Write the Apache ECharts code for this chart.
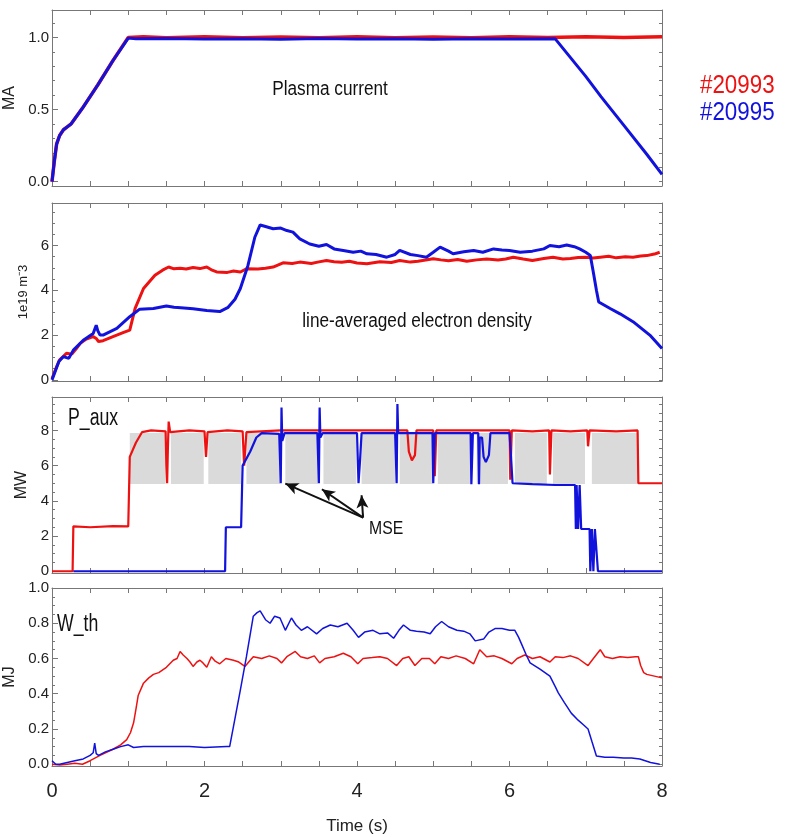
<!DOCTYPE html>
<html><head><meta charset="utf-8">
<script src="https://cdn.jsdelivr.net/npm/echarts@6/dist/echarts.min.js"></script>
<style>html,body{margin:0;padding:0;background:#fff}#c{width:791px;height:837px}</style>
</head><body><div id="c"></div>
<script>
// ---------- data ----------
const xTickLabels = [0, 2, 4, 6, 8];
const ipTicks = [0, 0.5, 1.0];
const neTicks = [0, 2, 4, 6];
const pTicks = [0, 2, 4, 6, 8];
const wTicks = [0, 0.2, 0.4, 0.6, 0.8, 1.0];

const ipRed = [[0,0.0],[0.03,0.14],[0.06,0.26],[0.1,0.32],[0.15,0.36],[0.2,0.38],[0.25,0.40],[0.4,0.51],[0.6,0.67],[0.8,0.84],[1.0,1.0],[1.2,1.005],[1.5,0.998],[2.0,1.004],[2.5,0.998],[3.0,1.003],[3.5,0.997],[4.0,1.004],[4.5,0.998],[5.0,1.003],[5.5,0.997],[6.0,1.004],[6.5,0.999],[7.0,1.005],[7.5,0.999],[8.0,1.004]];
const ipBlue = [[0,0.0],[0.03,0.14],[0.06,0.26],[0.1,0.32],[0.15,0.36],[0.2,0.38],[0.25,0.40],[0.4,0.51],[0.6,0.67],[0.8,0.84],[1.0,0.995],[1.1,0.99],[1.5,0.992],[2.0,0.989],[2.5,0.991],[3.0,0.988],[3.5,0.992],[4.0,0.989],[4.5,0.991],[5.0,0.988],[5.5,0.991],[6.0,0.989],[6.6,0.99],[6.8,0.86],[7.0,0.73],[7.2,0.59],[7.5,0.39],[7.8,0.19],[8.0,0.05]];

const neRed = [[0,0.05],[0.05,0.5],[0.1,0.89],[0.15,1.05],[0.19,1.19],[0.26,1.15],[0.32,1.4],[0.37,1.63],[0.45,1.82],[0.54,1.93],[0.58,1.85],[0.61,1.71],[0.67,1.75],[0.8,1.93],[0.94,2.12],[1.02,2.22],[1.09,3.19],[1.2,4.08],[1.35,4.67],[1.45,4.9],[1.53,5.04],[1.6,4.96],[1.68,4.99],[1.76,4.95],[1.85,5.02],[1.94,4.97],[2.03,5.04],[2.1,4.9],[2.16,4.82],[2.3,4.8],[2.38,4.86],[2.47,4.82],[2.55,4.96],[2.7,4.95],[2.8,4.99],[2.9,5.04],[3.03,5.23],[3.15,5.2],[3.25,5.26],[3.4,5.2],[3.5,5.27],[3.6,5.33],[3.7,5.28],[3.8,5.25],[3.9,5.3],[4.0,5.22],[4.13,5.19],[4.3,5.28],[4.45,5.24],[4.56,5.33],[4.7,5.26],[4.8,5.3],[4.9,5.35],[5.0,5.41],[5.1,5.36],[5.2,5.32],[5.32,5.38],[5.44,5.3],[5.57,5.36],[5.7,5.4],[5.85,5.35],[5.95,5.4],[6.05,5.48],[6.18,5.4],[6.3,5.33],[6.45,5.42],[6.57,5.48],[6.7,5.4],[6.8,5.42],[6.9,5.47],[7.0,5.48],[7.1,5.44],[7.19,5.48],[7.3,5.52],[7.4,5.45],[7.52,5.5],[7.62,5.48],[7.72,5.53],[7.8,5.55],[7.9,5.62],[7.97,5.7]];
const neBlue = [[0,0.0],[0.05,0.45],[0.09,0.82],[0.15,1.04],[0.22,0.96],[0.28,1.33],[0.41,1.77],[0.54,2.07],[0.58,2.44],[0.6,2.2],[0.63,2.0],[0.67,2.0],[0.85,2.3],[1.02,2.82],[1.15,3.16],[1.33,3.19],[1.5,3.3],[1.6,3.24],[1.69,3.22],[1.85,3.18],[2.03,3.1],[2.2,3.05],[2.31,3.24],[2.4,3.6],[2.47,4.08],[2.57,5.11],[2.66,6.37],[2.73,6.92],[2.8,6.85],[2.9,6.75],[3.0,6.78],[3.08,6.67],[3.16,6.6],[3.25,6.3],[3.38,6.07],[3.5,5.97],[3.6,6.05],[3.7,5.85],[3.82,5.78],[3.95,5.7],[4.05,5.75],[4.13,5.63],[4.25,5.6],[4.39,5.48],[4.5,5.6],[4.56,5.78],[4.7,5.6],[4.8,5.55],[4.91,5.48],[5.0,5.7],[5.09,5.93],[5.2,5.75],[5.26,5.63],[5.4,5.72],[5.53,5.78],[5.65,5.7],[5.79,5.85],[5.9,5.8],[6.0,5.78],[6.14,5.7],[6.3,5.75],[6.45,5.85],[6.53,6.0],[6.65,5.95],[6.75,6.02],[6.85,5.95],[6.92,5.85],[7.0,5.7],[7.06,5.56],[7.1,4.8],[7.14,4.0],[7.17,3.48],[7.32,3.19],[7.45,2.95],[7.62,2.6],[7.84,2.0],[8.0,1.4]];

const pRed = [[0,0],[0.27,0],[0.28,2.55],[0.5,2.5],[0.8,2.56],[1.0,2.55],[1.02,6.5],[1.1,7.3],[1.18,7.9],[1.3,8.0],[1.49,7.95],[1.5,6.0],[1.51,5.0],[1.52,7.0],[1.53,8.5],[1.55,7.9],[1.8,8.0],[2.0,7.95],[2.02,6.5],[2.04,7.9],[2.3,8.0],[2.5,7.95],[2.52,6.0],[2.55,7.9],[3.0,8.0],[3.5,8.0],[4.0,8.0],[4.5,8.0],[4.66,8.0],[4.68,6.8],[4.72,6.3],[4.76,6.6],[4.78,8.0],[5.0,8.0],[5.02,5.4],[5.04,8.0],[5.5,8.0],[6.0,8.0],[6.01,5.2],[6.03,8.0],[6.3,7.95],[6.52,8.0],[6.53,5.5],[6.55,8.0],[6.8,7.95],[7.02,8.0],[7.03,7.1],[7.05,8.0],[7.4,7.95],[7.68,8.0],[7.69,5.0],[8.0,5.0]];
const pBlue = [[0.28,0],[2.27,0],[2.28,2.5],[2.48,2.5],[2.5,6.0],[2.6,6.8],[2.68,7.6],[2.75,7.85],[2.98,7.8],[3.0,5.0],[3.01,9.3],[3.02,7.4],[3.05,7.85],[3.48,7.85],[3.5,5.0],[3.51,9.3],[3.52,7.6],[3.55,7.85],[4.0,7.85],[4.02,5.0],[4.04,6.3],[4.06,7.85],[4.5,7.85],[4.52,5.0],[4.53,9.5],[4.54,7.85],[4.99,7.85],[5.0,5.0],[5.02,7.85],[5.49,7.85],[5.5,4.95],[5.52,7.85],[5.59,7.85],[5.6,4.95],[5.61,7.6],[5.64,7.6],[5.66,6.5],[5.69,6.2],[5.73,6.6],[5.75,7.85],[6.0,7.85],[6.02,6.5],[6.04,5.0],[6.3,4.95],[6.6,4.9],[6.86,4.9],[6.87,2.4],[6.88,4.9],[6.9,2.4],[6.92,4.9],[6.94,2.4],[7.05,2.4],[7.06,0],[7.08,2.4],[7.1,0],[7.12,2.4],[7.16,0],[8.0,0]];
const grayStart = [1.02,1.56,2.05,2.55,3.06,3.56,4.06,4.56,5.06,5.57,6.07,6.57,7.08];
const grayEnd   = [1.49,1.99,2.48,2.99,3.49,3.99,4.50,4.99,5.49,5.98,6.49,6.99,7.69];
const grayLow = 4.95, grayHigh = 7.85;
const mseTail = [4.08, 3.05];
const mseTips = [[3.06,4.98],[3.54,4.66],[4.06,4.32]];

const wRed = [[0,0.0],[0.1,-0.005],[0.2,0.0],[0.3,0.005],[0.4,0.0],[0.5,0.02],[0.63,0.05],[0.8,0.085],[0.9,0.11],[0.98,0.14],[1.03,0.18],[1.07,0.235],[1.1,0.31],[1.13,0.39],[1.2,0.46],[1.27,0.49],[1.33,0.51],[1.4,0.52],[1.5,0.55],[1.59,0.59],[1.64,0.6],[1.68,0.64],[1.72,0.62],[1.77,0.6],[1.81,0.58],[1.85,0.555],[1.9,0.58],[1.94,0.59],[1.98,0.575],[2.03,0.55],[2.09,0.61],[2.14,0.585],[2.2,0.57],[2.28,0.6],[2.38,0.59],[2.45,0.58],[2.53,0.555],[2.58,0.58],[2.64,0.61],[2.75,0.6],[2.85,0.615],[2.95,0.6],[3.01,0.575],[3.08,0.61],[3.19,0.64],[3.26,0.61],[3.35,0.6],[3.44,0.615],[3.51,0.575],[3.58,0.6],[3.7,0.61],[3.82,0.63],[3.92,0.61],[4.01,0.57],[4.08,0.6],[4.2,0.605],[4.3,0.61],[4.4,0.6],[4.52,0.56],[4.6,0.6],[4.68,0.61],[4.76,0.56],[4.85,0.6],[4.95,0.6],[5.02,0.57],[5.1,0.61],[5.2,0.6],[5.3,0.615],[5.42,0.6],[5.53,0.57],[5.61,0.65],[5.7,0.61],[5.8,0.615],[5.9,0.6],[6.03,0.57],[6.1,0.6],[6.2,0.62],[6.3,0.6],[6.4,0.61],[6.53,0.58],[6.6,0.61],[6.7,0.605],[6.8,0.615],[6.9,0.6],[7.03,0.56],[7.1,0.6],[7.19,0.65],[7.25,0.61],[7.35,0.6],[7.45,0.61],[7.55,0.605],[7.65,0.61],[7.69,0.61],[7.72,0.56],[7.76,0.52],[7.8,0.51],[7.9,0.5],[8.0,0.49]];
const wBlue = [[0,0.02],[0.05,0.0],[0.1,0.0],[0.2,0.01],[0.3,0.02],[0.41,0.03],[0.5,0.05],[0.54,0.065],[0.56,0.12],[0.58,0.06],[0.61,0.05],[0.7,0.07],[0.8,0.085],[0.9,0.1],[1.0,0.11],[1.07,0.095],[1.2,0.1],[1.5,0.1],[1.8,0.1],[2.0,0.095],[2.29,0.1],[2.33,0.1],[2.4,0.26],[2.47,0.42],[2.55,0.61],[2.64,0.84],[2.69,0.86],[2.73,0.87],[2.8,0.82],[2.86,0.8],[2.92,0.84],[2.99,0.83],[3.06,0.76],[3.14,0.83],[3.2,0.79],[3.27,0.76],[3.35,0.78],[3.47,0.74],[3.55,0.77],[3.65,0.79],[3.75,0.78],[3.87,0.8],[3.95,0.76],[4.02,0.72],[4.1,0.75],[4.21,0.76],[4.3,0.74],[4.4,0.745],[4.48,0.715],[4.55,0.76],[4.61,0.79],[4.7,0.76],[4.78,0.755],[4.88,0.75],[4.96,0.74],[5.03,0.78],[5.11,0.81],[5.2,0.78],[5.31,0.76],[5.4,0.755],[5.48,0.74],[5.55,0.7],[5.66,0.71],[5.73,0.75],[5.81,0.77],[5.9,0.77],[6.0,0.76],[6.07,0.76],[6.12,0.72],[6.16,0.68],[6.22,0.62],[6.27,0.575],[6.4,0.54],[6.53,0.5],[6.6,0.44],[6.64,0.405],[6.72,0.35],[6.81,0.29],[6.9,0.25],[6.98,0.22],[7.03,0.2],[7.08,0.13],[7.14,0.047],[7.25,0.04],[7.36,0.04],[7.5,0.035],[7.6,0.035],[7.71,0.03],[7.85,0.01],[7.97,0.0]];

// ---------- styling ----------
const RED = '#ee1111', BLUE = '#1212dd';
const FONT = "'Liberation Sans',Arial,sans-serif";
const AX = '#777';
const panels = [
  {top:10, height:176, min:-0.03, max:1.19, ticks:ipTicks, minor:0.1, dec:1, name:'MA', nameGap:26, nameSize:16},
  {top:203, height:178, min:-0.05, max:7.9, ticks:neTicks, minor:0.5, dec:0, name:'1e19 m\u207B3', nameGap:21, nameSize:13},
  {top:397, height:176, min:-0.1, max:9.9, ticks:pTicks, minor:0.5, dec:0, name:'MW', nameGap:22, nameSize:16},
  {top:588, height:178, min:-0.01, max:1.0, ticks:wTicks, minor:0.05, dec:1, name:'MJ', nameGap:28, nameSize:16}
];
function minorsOf(p){
  const out=[]; const n=Math.round((p.max-p.min)/p.minor)+2;
  const start=Math.ceil(p.min/p.minor);
  for(let k=start;k<start+n;k++){const v=+(k*p.minor).toFixed(4); if(v>=p.min&&v<=p.max) out.push(v);}
  return out;
}
const grid=[], xAxis=[], yAxis=[];
panels.forEach((p,i)=>{ grid.push({left:52, width:610, top:p.top, height:p.height, containLabel:false, outerBoundsMode:'none'}); });
panels.forEach((p,i)=>{
  xAxis.push({gridIndex:i, type:'value', min:0, max:8, interval:0.5, position:'bottom',
    axisLine:{show:true,onZero:false,lineStyle:{color:AX,width:1}},
    axisTick:{show:true,inside:true,length:5,lineStyle:{color:AX}},
    axisLabel:{show:i===3, customValues:xTickLabels, fontSize:20, fontFamily:FONT, color:'#222', margin:15},
    splitLine:{show:false},
    name:i===3?'Time (s)':'', nameLocation:'middle', nameGap:52,
    nameTextStyle:{fontSize:17, fontFamily:FONT, color:'#222'}});
});
panels.forEach((p,i)=>{
  xAxis.push({gridIndex:i, type:'value', min:0, max:8, interval:0.5, position:'top',
    axisLine:{show:true,onZero:false,lineStyle:{color:AX,width:1}},
    axisTick:{show:true,inside:true,length:5,lineStyle:{color:AX}},
    axisLabel:{show:false}, splitLine:{show:false}});
});
panels.forEach((p,i)=>{
  yAxis.push({gridIndex:i, type:'value', min:p.min, max:p.max, position:'left',
    axisLine:{show:true,onZero:false,lineStyle:{color:AX,width:1}},
    axisTick:{show:true,inside:true,length:6,customValues:p.ticks,lineStyle:{color:AX}},
    axisLabel:{show:true,customValues:p.ticks,formatter:v=>Number(v).toFixed(p.dec),fontSize:15,fontFamily:FONT,color:'#222',margin:3},
    splitLine:{show:false},
    name:p.name, nameLocation:'middle', nameGap:p.nameGap,
    nameTextStyle:{fontSize:p.nameSize, fontFamily:FONT, color:'#222'}});
});
panels.forEach((p,i)=>{
  yAxis.push({gridIndex:i, type:'value', min:p.min, max:p.max, position:'left',
    axisLine:{show:false,onZero:false},
    axisTick:{show:true,inside:true,length:3,customValues:minorsOf(p),lineStyle:{color:AX}},
    axisLabel:{show:false}, splitLine:{show:false}});
});
panels.forEach((p,i)=>{
  yAxis.push({gridIndex:i, type:'value', min:p.min, max:p.max, position:'right',
    axisLine:{show:true,onZero:false,lineStyle:{color:AX,width:1}},
    axisTick:{show:true,inside:true,length:3,customValues:minorsOf(p),lineStyle:{color:AX}},
    axisLabel:{show:false}, splitLine:{show:false}});
});

function line(i,data,color,width,z){
  return {type:'line', xAxisIndex:i, yAxisIndex:i, data, showSymbol:false, symbol:'none',
    lineStyle:{color,width}, itemStyle:{color}, z, clip:true, silent:true};
}
const grayAreas = grayStart.map((s,k)=>[{xAxis:s, yAxis:grayLow},{xAxis:grayEnd[k], yAxis:grayHigh}]);
const series = [
  {type:'line', xAxisIndex:2, yAxisIndex:2, data:[[0,-5],[0.01,-5]], showSymbol:false, symbol:'none',
   lineStyle:{opacity:0}, z:1, silent:true,
   markArea:{silent:true, itemStyle:{color:'#dadada'}, data:grayAreas}},
  line(0,ipRed,RED,3.5,2), line(0,ipBlue,BLUE,3,3),
  line(1,neRed,RED,3,2), line(1,neBlue,BLUE,3,3),
  line(2,pRed,RED,2.2,2), line(2,pBlue,BLUE,2.2,3),
  line(3,wRed,RED,1.5,2), line(3,wBlue,BLUE,1.5,3),
  {type:'line', xAxisIndex:2, yAxisIndex:2, data:[[0,-5],[0.01,-5]], showSymbol:false, symbol:'none',
   lineStyle:{opacity:0}, z:6, silent:true,
   markLine:{silent:true, symbol:['none','arrow'], symbolSize:[9,13], label:{show:false},
     lineStyle:{color:'#111', width:2, type:'solid'},
     data: mseTips.map(tp=>[{coord:mseTail},{coord:tp}])}}
];

function txt(x,y,text,size,sx,fill,align){
  return {type:'text', x, y, scaleX:sx, style:{text, font:size+"px "+FONT, fill, textAlign:align, textVerticalAlign:'middle'}};
}
const graphic = [
  txt(330,89,'Plasma current',20,0.86,'#111','center'),
  txt(417,321,'line-averaged electron density',20,0.86,'#111','center'),
  txt(68,419,'P_aux',23,0.77,'#111','left'),
  txt(57,625,'W_th',23,0.77,'#111','left'),
  txt(369,529,'MSE',19,0.83,'#111','left'),
  txt(700,86,'#20993',26,0.86,RED,'left'),
  txt(700,113,'#20995',26,0.86,BLUE,'left')
];

const chart = echarts.init(document.getElementById('c'), null, {renderer:'canvas'});
chart.setOption({animation:false, backgroundColor:'#fff', grid, xAxis, yAxis, series, graphic});
</script></body></html>
